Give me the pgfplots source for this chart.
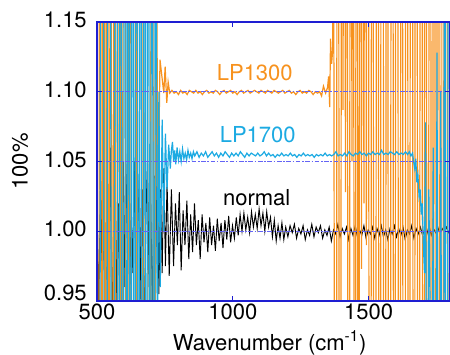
\documentclass[border=0pt]{standalone}
\usepackage{pgfplots}
\pgfplotsset{compat=1.18}
\usepackage{fontspec}
\setmainfont{TeX Gyre Heros}
\definecolor{lporange}{RGB}{247,146,30}
\definecolor{lpblue}{RGB}{28,170,226}
\definecolor{framecol}{RGB}{30,30,210}
\definecolor{gridcol}{RGB}{100,100,245}
\begin{document}
\begin{tikzpicture}
\begin{axis}[
  scale only axis,
  width=264.75pt, height=209.25pt,
  xmin=500, xmax=1800, ymin=0.95, ymax=1.15,
  xtick={500,1000,1500},
  ytick={1.00,1.05,1.10,1.15},
  extra y ticks={0.95},
  extra y tick style={yticklabel style={yshift=4.5pt}},
  font=\fontsize{16.5}{19.8}\selectfont,
  /pgf/number format/assume math mode=true,
  /pgf/number format/1000 sep={},
  yticklabel style={/pgf/number format/fixed,/pgf/number format/fixed zerofill,/pgf/number format/precision=2, inner sep=0pt, xshift=-7.5pt, yshift=1.5pt},
  xticklabel style={inner sep=0pt, yshift=-2pt},
  tick align=inside,
  major tick length=4pt,
  tick style={framecol, line width=0.6pt},
  axis line style={framecol, line width=0.9pt},
  axis on top,
  xlabel={Wavenumber (cm\textsuperscript{-1})},
  ylabel={100\%},
  every axis x label/.style={at={(axis description cs:0.489,-0.1505)}, anchor=center},
  every axis y label/.style={at={(axis description cs:-0.218,0.5)}, anchor=center, rotate=90},
  clip=true,
]
% normal (black)
\addplot[black, line width=0.7pt] coordinates {
(500,1.02) (507,0.94) (513,1.05) (519,0.96) (525,1.01) (531,0.92) (537,1.04) (543,0.97) (549,1.06) (555,0.93)
(561,1.0) (567,1.04) (573,0.95) (579,1.02) (585,0.91) (591,0.99) (597,1.05) (603,0.96) (609,1.03) (614,1.07)
(620,0.94) (626,1.02) (632,0.97) (638,1.05) (644,0.93) (650,1.0) (656,1.04) (662,0.95) (668,1.03) (674,0.92)
(680,1.01) (686,1.05) (692,0.96) (698,1.02) (704,0.94) (710,1.04) (716,0.97) (722,1.05) (728,0.955) (734,1.03)
(740,0.97) (746,1.045) (752,0.975) (758,1.035)
(766,0.968) (774,1.03) (782,0.975) (789,1.02) (796,0.99) (803,1.028) (810,0.972) (817,1.015) (824,0.99) (831,1.022)
(838,0.98) (845,1.012) (852,0.985) (859,1.02) (866,0.99) (873,1.008) (880,0.98) (887,1.012) (894,0.992) (901,1.006)
(908,0.985) (915,1.01) (922,0.99) (929,1.004) (936,0.986) (943,1.009) (950,0.993) (957,1.006) (964,0.988) (971,1.008)
(978,0.994) (985,1.011) (992,0.992) (999,1.004) (1006,0.995) (1013,1.01) (1020,0.997) (1027,1.012) (1034,1.0) (1041,1.013)
(1048,1.001) (1055,1.01) (1062,0.999) (1069,1.014) (1076,1.003) (1083,1.012) (1090,1.002) (1097,1.016) (1104,1.004) (1111,1.013)
(1118,1.0) (1125,1.014) (1132,1.003) (1139,1.01) (1146,0.996) (1153,1.008) (1160,0.993) (1167,1.004) (1174,0.995) (1181,1.006)
(1188,0.994) (1195,1.003)
(1203,0.996) (1211,1.004) (1219,0.999) (1227,1.005) (1235,0.995) (1243,1.002) (1251,0.998) (1259,1.004) (1267,0.994) (1275,1.001)
(1283,0.997) (1291,1.005) (1299,0.996) (1307,1.003) (1315,0.999) (1323,1.004) (1331,0.995) (1339,1.001) (1347,0.997) (1355,1.003)
(1363,0.993) (1371,1.001) (1379,0.998) (1387,1.005) (1395,0.996) (1403,1.002) (1411,0.998) (1419,1.003) (1427,0.994) (1435,1.002)
(1443,0.997) (1451,1.004) (1459,0.996) (1467,1.001) (1475,0.997) (1483,1.004) (1491,0.995) (1499,1.001) (1507,0.998) (1515,1.003)
(1523,0.995) (1531,1.002) (1539,0.997) (1547,1.004) (1555,0.996) (1563,1.001) (1571,0.994) (1579,1.002) (1587,0.998) (1595,1.004)
(1603,0.996) (1611,1.002) (1619,0.997) (1627,1.003) (1635,0.994) (1643,1.001) (1651,0.998) (1659,1.004) (1667,0.995) (1675,1.002)
(1683,0.998) (1691,1.003) (1699,0.997) (1707,1.002) (1715,0.998) (1723,1.004) (1731,0.997) (1739,1.002) (1747,0.999) (1755,1.003)
(1763,0.998) (1771,1.002) (1779,0.999) (1787,1.003) (1795,0.999) (1800,1.001)
};
% LP1300 (orange)
\addplot[lporange, line width=0.9pt] coordinates {
(500,1.3) (502,0.8) (507,0.8) (509,1.3) (514,1.3) (516,0.8) (520,0.8) (522,1.3) (527,1.3) (529,0.8)
(533,0.8) (535,1.3) (540,1.3) (542,0.8) (546,0.8) (548,1.3) (553,1.3) (555,0.8) (560,0.8) (562,1.3)
(568,1.3) (570,0.8) (576,0.8) (578,1.3) (585,1.3) (587,0.8) (594,0.8) (596,1.3) (604,1.3) (606,0.8)
(614,0.8) (616,1.3) (624,1.3) (626,0.8) (634,0.8) (636,1.3) (645,1.3) (647,0.8) (655,0.8) (657,1.3)
(665,1.3) (667,0.8) (676,0.8) (678,1.3) (686,1.3) (688,0.8) (697,0.8) (699,1.3) (706,1.3) (708,0.8)
(714,0.8) (716,1.3) (720,1.2) (724,1.0) (732,1.123) (746,1.099) (751,1.118) (757,1.092) (762,1.107) (768,1.099)
(776,1.101) (784,1.099) (792,1.100) (800,1.098) (808,1.101) (816,1.099) (824,1.100) (832,1.098) (840,1.101) (848,1.100)
(856,1.099) (864,1.101) (872,1.099) (880,1.100) (888,1.098) (896,1.100) (904,1.101) (912,1.099) (920,1.100) (928,1.099)
(936,1.101) (944,1.100) (952,1.098) (960,1.100) (968,1.101) (976,1.099) (984,1.100) (992,1.101) (1000,1.099) (1008,1.100)
(1016,1.098) (1024,1.100) (1032,1.101) (1040,1.099) (1048,1.100) (1056,1.101) (1064,1.099) (1072,1.100) (1080,1.101) (1088,1.100)
(1096,1.099) (1104,1.101) (1112,1.100) (1120,1.099) (1128,1.101) (1136,1.100) (1144,1.099) (1152,1.101) (1160,1.100) (1168,1.099)
(1176,1.100) (1184,1.101) (1192,1.099) (1200,1.100) (1208,1.101) (1216,1.099) (1224,1.100) (1232,1.098) (1240,1.100) (1248,1.101)
(1256,1.099) (1264,1.100) (1272,1.099) (1280,1.101) (1288,1.100) (1296,1.098) (1304,1.100) (1312,1.099) (1320,1.100)
(1327,1.097) (1334,1.104) (1342,1.099) (1349,1.103) (1353,1.111) (1357,1.089) (1360,1.138) (1364,1.12) (1368,1.13)
(1371,1.3) (1375,0.8) (1382,0.8) (1384,1.3) (1390,1.3) (1392,0.8) (1398,0.8) (1400,1.3) (1404,1.3) (1406,1.087)
(1408,1.3) (1413,1.3) (1415,1.028) (1417,1.3) (1422,1.3) (1424,0.8) (1430,0.8) (1432,1.3) (1437,1.3) (1439,1.05)
(1441,1.3) (1445,1.3) (1447,0.8) (1452,0.8) (1454,1.3) (1459,1.3) (1461,0.8) (1465,0.8) (1467,1.3) (1472,1.3)
(1474,0.973) (1476,1.3) (1481,1.3) (1483,1.02) (1485,1.3) (1490,1.3) (1492,0.99) (1494,1.3)
(1500,1.3) (1502,0.8) (1509,0.8) (1511,1.3) (1517,1.3) (1519,0.8) (1527,0.8) (1529,1.3) (1536,1.3) (1538,0.8)
(1544,0.8) (1546,1.3) (1554,1.3) (1556,0.8) (1563,0.8) (1565,1.3) (1571,1.3) (1573,0.8) (1581,0.8) (1583,1.3)
(1590,1.3) (1592,0.8) (1598,0.8) (1600,1.3) (1608,1.3) (1610,0.8) (1617,0.8) (1619,1.3) (1625,1.3) (1627,0.8)
(1635,0.8) (1637,1.3) (1644,1.3) (1646,0.8) (1652,0.8) (1654,1.3) (1662,1.3) (1664,0.8) (1670,0.8) (1672,1.3)
(1679,1.3) (1681,0.8) (1688,0.8) (1690,1.3) (1697,1.3) (1699,0.8) (1705,0.8) (1707,1.3) (1713,1.3) (1715,0.8)
(1721,0.8) (1723,1.3) (1729,1.3) (1731,0.8) (1736,0.8) (1738,1.3) (1744,1.3) (1746,0.8) (1751,0.8) (1753,1.3)
(1759,1.3) (1761,0.8) (1766,0.8) (1768,1.3) (1774,1.3) (1776,0.8) (1781,0.8) (1783,1.3) (1789,1.3) (1791,0.8)
(1796,0.8) (1798,1.3)
};
% LP1700 (blue)
\addplot[lpblue, line width=0.9pt] coordinates {
(500,1.2) (502,0.85) (511,0.85) (513,1.25) (524,1.25) (526,0.82) (537,0.82) (539,1.3) (550,1.3) (552,0.85)
(564,0.85) (566,1.3) (574,1.3) (576,0.8) (582,0.8) (584,1.25) (590,1.25) (592,0.8) (598,0.8) (600,1.3)
(606,1.3) (608,0.82) (612,0.82) (614,1.28) (619,1.28) (621,0.8) (626,0.8) (628,1.3) (633,1.3) (635,0.83)
(640,0.83) (642,1.27) (648,1.27) (650,0.8) (655,0.8) (657,1.3) (662,1.3) (664,0.82) (670,0.82) (672,1.25)
(677,1.25) (679,0.8) (684,0.8) (686,1.3) (691,1.3) (693,0.85) (698,0.85) (700,1.22) (705,1.22) (707,0.86)
(712,0.86) (714,1.2) (719,1.15) (722,0.9) (728,1.1) (733,0.96) (740,1.08) (746,1.0) (752,1.07) (758,1.03)
(764,1.062) (770,1.045) (774,1.058) (778,1.064) (782,1.05) (786,1.058) (790,1.048) (795,1.06) (800,1.051) (805,1.057)
(810,1.05) (815,1.059) (820,1.052) (825,1.056) (830,1.051) (835,1.058) (840,1.053) (845,1.056) (850,1.052) (855,1.057)
(860,1.054) (868,1.057) (876,1.053) (884,1.056) (892,1.054) (900,1.057) (908,1.053) (916,1.055) (924,1.057) (932,1.054)
(940,1.056) (948,1.053) (956,1.056) (964,1.054) (972,1.057) (980,1.055) (988,1.053) (996,1.056) (1004,1.054) (1012,1.056)
(1020,1.054) (1028,1.057) (1036,1.055) (1044,1.053) (1052,1.056) (1060,1.054) (1068,1.056) (1076,1.055) (1084,1.054) (1092,1.056)
(1100,1.054) (1108,1.055) (1116,1.057) (1124,1.054) (1132,1.056) (1140,1.054) (1148,1.055) (1156,1.053) (1164,1.055) (1172,1.054)
(1180,1.056) (1188,1.054) (1196,1.055) (1204,1.054) (1212,1.056) (1220,1.054) (1228,1.055) (1236,1.053) (1244,1.055) (1252,1.054)
(1260,1.056) (1268,1.054) (1276,1.055) (1284,1.054) (1292,1.055) (1300,1.053) (1308,1.055) (1316,1.054) (1324,1.055) (1332,1.054)
(1340,1.056) (1348,1.054) (1356,1.055) (1364,1.054) (1372,1.055) (1380,1.057) (1388,1.054) (1396,1.055) (1404,1.054) (1412,1.056)
(1420,1.054) (1428,1.057) (1436,1.055) (1444,1.054) (1452,1.056) (1460,1.055) (1468,1.057) (1476,1.055) (1484,1.056) (1492,1.054)
(1500,1.056) (1508,1.055) (1516,1.057) (1524,1.055) (1532,1.056) (1540,1.055) (1548,1.058) (1556,1.055) (1564,1.056) (1572,1.055)
(1580,1.057) (1588,1.056) (1596,1.055) (1604,1.057) (1612,1.055) (1620,1.056) (1628,1.055) (1636,1.057) (1644,1.055) (1650,1.057)
(1656,1.054) (1662,1.056) (1666,1.05) (1670,1.045) (1674,1.052) (1678,1.035) (1682,1.04) (1686,1.025) (1690,1.03) (1694,1.012)
(1698,1.02) (1702,0.99) (1706,0.97) (1710,1.078) (1712,0.94) (1720,0.94) (1722,1.03) (1728,0.92) (1736,0.92) (1738,1.06)
(1741,0.9) (1750,0.9) (1752,1.128) (1755,0.88) (1764,0.86) (1766,1.1) (1769,0.85) (1777,0.85) (1779,1.25) (1782,1.25)
(1784,0.85) (1791,0.85) (1793,1.25) (1800,1.25)
};
% horizontal grid lines at the y ticks, drawn over the data
\draw[draw={rgb,255:red,100;green,100;blue,245}, line width=1pt, dash pattern=on 3.5pt off 1.2pt on 1.2pt off 1.2pt] (axis cs:500,1.00) -- (axis cs:1800,1.00);
\draw[draw={rgb,255:red,100;green,100;blue,245}, line width=1pt, dash pattern=on 3.5pt off 1.2pt on 1.2pt off 1.2pt] (axis cs:500,1.05) -- (axis cs:1800,1.05);
\draw[draw={rgb,255:red,100;green,100;blue,245}, line width=1pt, dash pattern=on 3.5pt off 1.2pt on 1.2pt off 1.2pt] (axis cs:500,1.10) -- (axis cs:1800,1.10);
\node[text=lporange] at (axis cs:1081,1.114) {LP1300};
\node[text=lpblue] at (axis cs:1092,1.069) {LP1700};
\node[text=black] at (axis cs:1088,1.024) {normal};
\coordinate (SW) at (rel axis cs:0,0);
\coordinate (NE) at (rel axis cs:1,1);
\end{axis}
\pgfresetboundingbox
\path[use as bounding box] ([xshift=-72.75pt,yshift=-39.75pt]SW) rectangle ([yshift=16.5pt]NE);
\end{tikzpicture}
\end{document}
